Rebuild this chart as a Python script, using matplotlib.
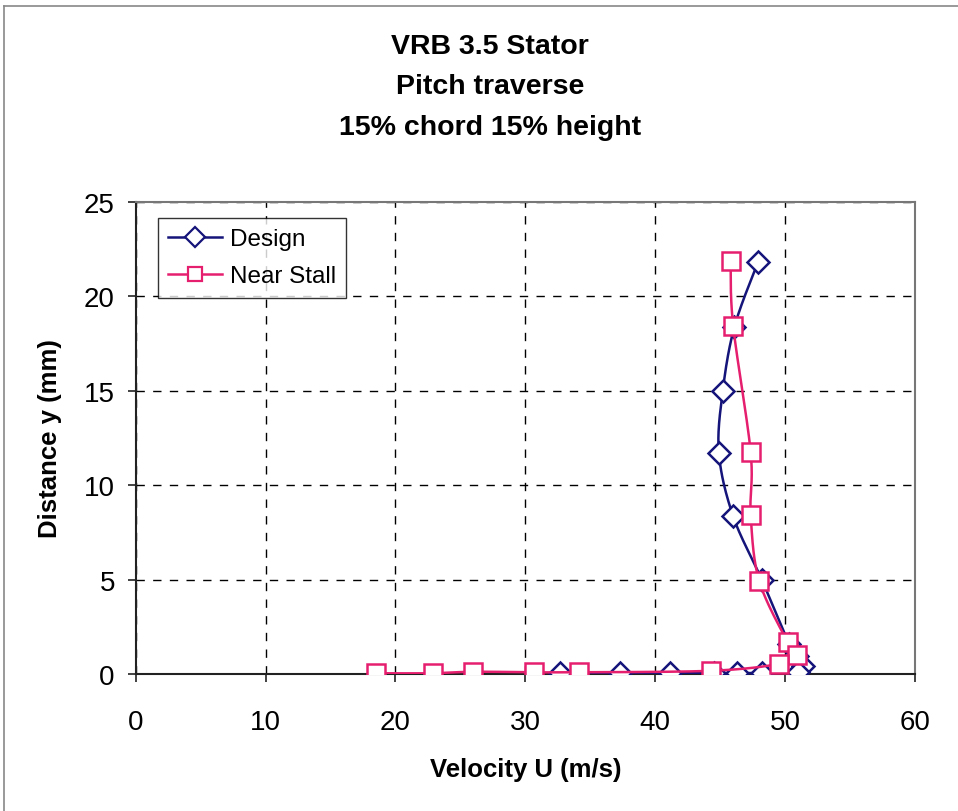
import numpy as np
import matplotlib
matplotlib.use("Agg")
import matplotlib.pyplot as plt
from matplotlib.lines import Line2D

plt.rcParams['font.family'] = ['Liberation Sans', 'DejaVu Sans']

# Pitch traverse data: velocity U (m/s) against distance y (mm)
design_u = [47.9, 46.1, 45.2, 44.9, 46.0, 48.2, 50.3, 50.9, 51.4, 51.0,
            48.2, 46.3, 44.5, 41.1, 37.3, 32.7]
design_y = [21.8, 18.4, 15.0, 11.7, 8.35, 5.0, 1.6, 0.97, 0.44, 0.1,
            0.05, 0.05, 0.05, 0.05, 0.03, 0.03]

stall_u = [45.8, 46.0, 47.35, 47.35, 48.0, 50.2, 50.9, 49.5,
           44.3, 34.1, 30.7, 26.0, 22.9, 18.5]
stall_y = [21.85, 18.45, 11.74, 8.42, 4.94, 1.68, 1.0, 0.53,
           0.17, 0.09, 0.09, 0.12, 0.04, 0.04]

x_ticks = [0, 10, 20, 30, 40, 50, 60]
y_ticks = [0, 5, 10, 15, 20, 25]

title_lines = ["VRB 3.5 Stator", "Pitch traverse", "15% chord 15% height"]

navy = "#14147a"
pink = "#e61e6e"

W, H = 958, 812
fig = plt.figure(figsize=(W / 100, H / 100), dpi=100)
ax = fig.add_axes([135.7 / W, (H - 675) / H, (915 - 135.7) / W, (675 - 203) / H])
ax.set_xlim(0, 60)
ax.set_ylim(0, 25)


def smooth(ax, xs, ys, n=30):
    """Bezier smoothing (Catmull-Rom style) done in display space."""
    pts = ax.transData.transform(np.column_stack([xs, ys]))
    out = [pts[0]]
    m = len(pts)
    for i in range(m - 1):
        p0 = pts[i - 1] if i > 0 else pts[i]
        p1 = pts[i]
        p2 = pts[i + 1]
        p3 = pts[i + 2] if i + 2 < m else pts[i + 1]
        c1 = p1 + (p2 - p0) / 6.0
        c2 = p2 - (p3 - p1) / 6.0
        t = np.linspace(0, 1, n)[1:, None]
        seg = ((1 - t) ** 3) * p1 + 3 * ((1 - t) ** 2) * t * c1 \
            + 3 * (1 - t) * t ** 2 * c2 + t ** 3 * p2
        out.extend(seg)
    out = np.array(out)
    data = ax.transData.inverted().transform(out)
    return data[:, 0], data[:, 1]


# grid
ax.set_xticks(x_ticks)
ax.set_yticks(y_ticks)
ax.grid(True, color="black", linestyle=(0, (6, 6)), linewidth=1.0)
ax.set_axisbelow(True)

dx, dy = smooth(ax, design_u, design_y)
ax.plot(dx, dy, color=navy, linewidth=1.8, zorder=3)
ax.plot(design_u, design_y, linestyle="none", marker="D", markersize=11.3,
        markerfacecolor="white", markeredgecolor=navy, markeredgewidth=1.8, zorder=4)

sx, sy = smooth(ax, stall_u, stall_y)
ax.plot(sx, sy, color=pink, linewidth=1.8, zorder=5)
ax.plot(stall_u, stall_y, linestyle="none", marker="s", markersize=12.5,
        markerfacecolor="white", markeredgecolor=pink, markeredgewidth=1.8, zorder=6)

for side in ("top", "right"):
    ax.spines[side].set_color("#777777")
    ax.spines[side].set_linewidth(1.5)
for side in ("left", "bottom"):
    ax.spines[side].set_color("#222222")
    ax.spines[side].set_linewidth(1.5)

ax.tick_params(axis="both", direction="out", length=6, width=1.2,
               labelsize=20, color="#222222")
ax.tick_params(axis="x", pad=19)
ax.tick_params(axis="y", pad=9)

ax.set_xlabel("Velocity U (m/s)", fontsize=18.5, fontweight="bold", labelpad=16)
ax.set_ylabel("Distance y (mm)", fontsize=18.5, fontweight="bold", labelpad=16)

# title
for i, line in enumerate(title_lines):
    fig.text(490 / W, 1 - (47 + 40.5 * i) / H, line, ha="center", va="center",
             fontsize=20.5, fontweight="bold")

# legend
handles = [
    Line2D([], [], color=navy, linewidth=1.8, marker="D", markersize=10,
           markerfacecolor="white", markeredgecolor=navy, markeredgewidth=1.6),
    Line2D([], [], color=pink, linewidth=1.8, marker="s", markersize=10,
           markerfacecolor="white", markeredgecolor=pink, markeredgewidth=1.6),
]
leg = ax.legend(handles, ["Design", "Near Stall"], loc="upper left",
                bbox_to_anchor=((158 - 135.7) / (915 - 135.7), (675 - 219) / (675 - 203)),
                fontsize=17.5, frameon=True, fancybox=False, borderpad=0.42,
                handlelength=2.2, handletextpad=0.33, labelspacing=0.62,
                borderaxespad=0)
leg.get_frame().set_edgecolor("black")
leg.get_frame().set_linewidth(1.0)

# outer frame lines
fig.add_artist(Line2D([4 / W, 4 / W], [0, 1 - 7 / H], color="#888888", linewidth=1.2))
fig.add_artist(Line2D([4 / W, 1], [1 - 7 / H, 1 - 7 / H], color="#888888", linewidth=1.2))

fig.savefig("out.png", dpi=100, facecolor="white")
